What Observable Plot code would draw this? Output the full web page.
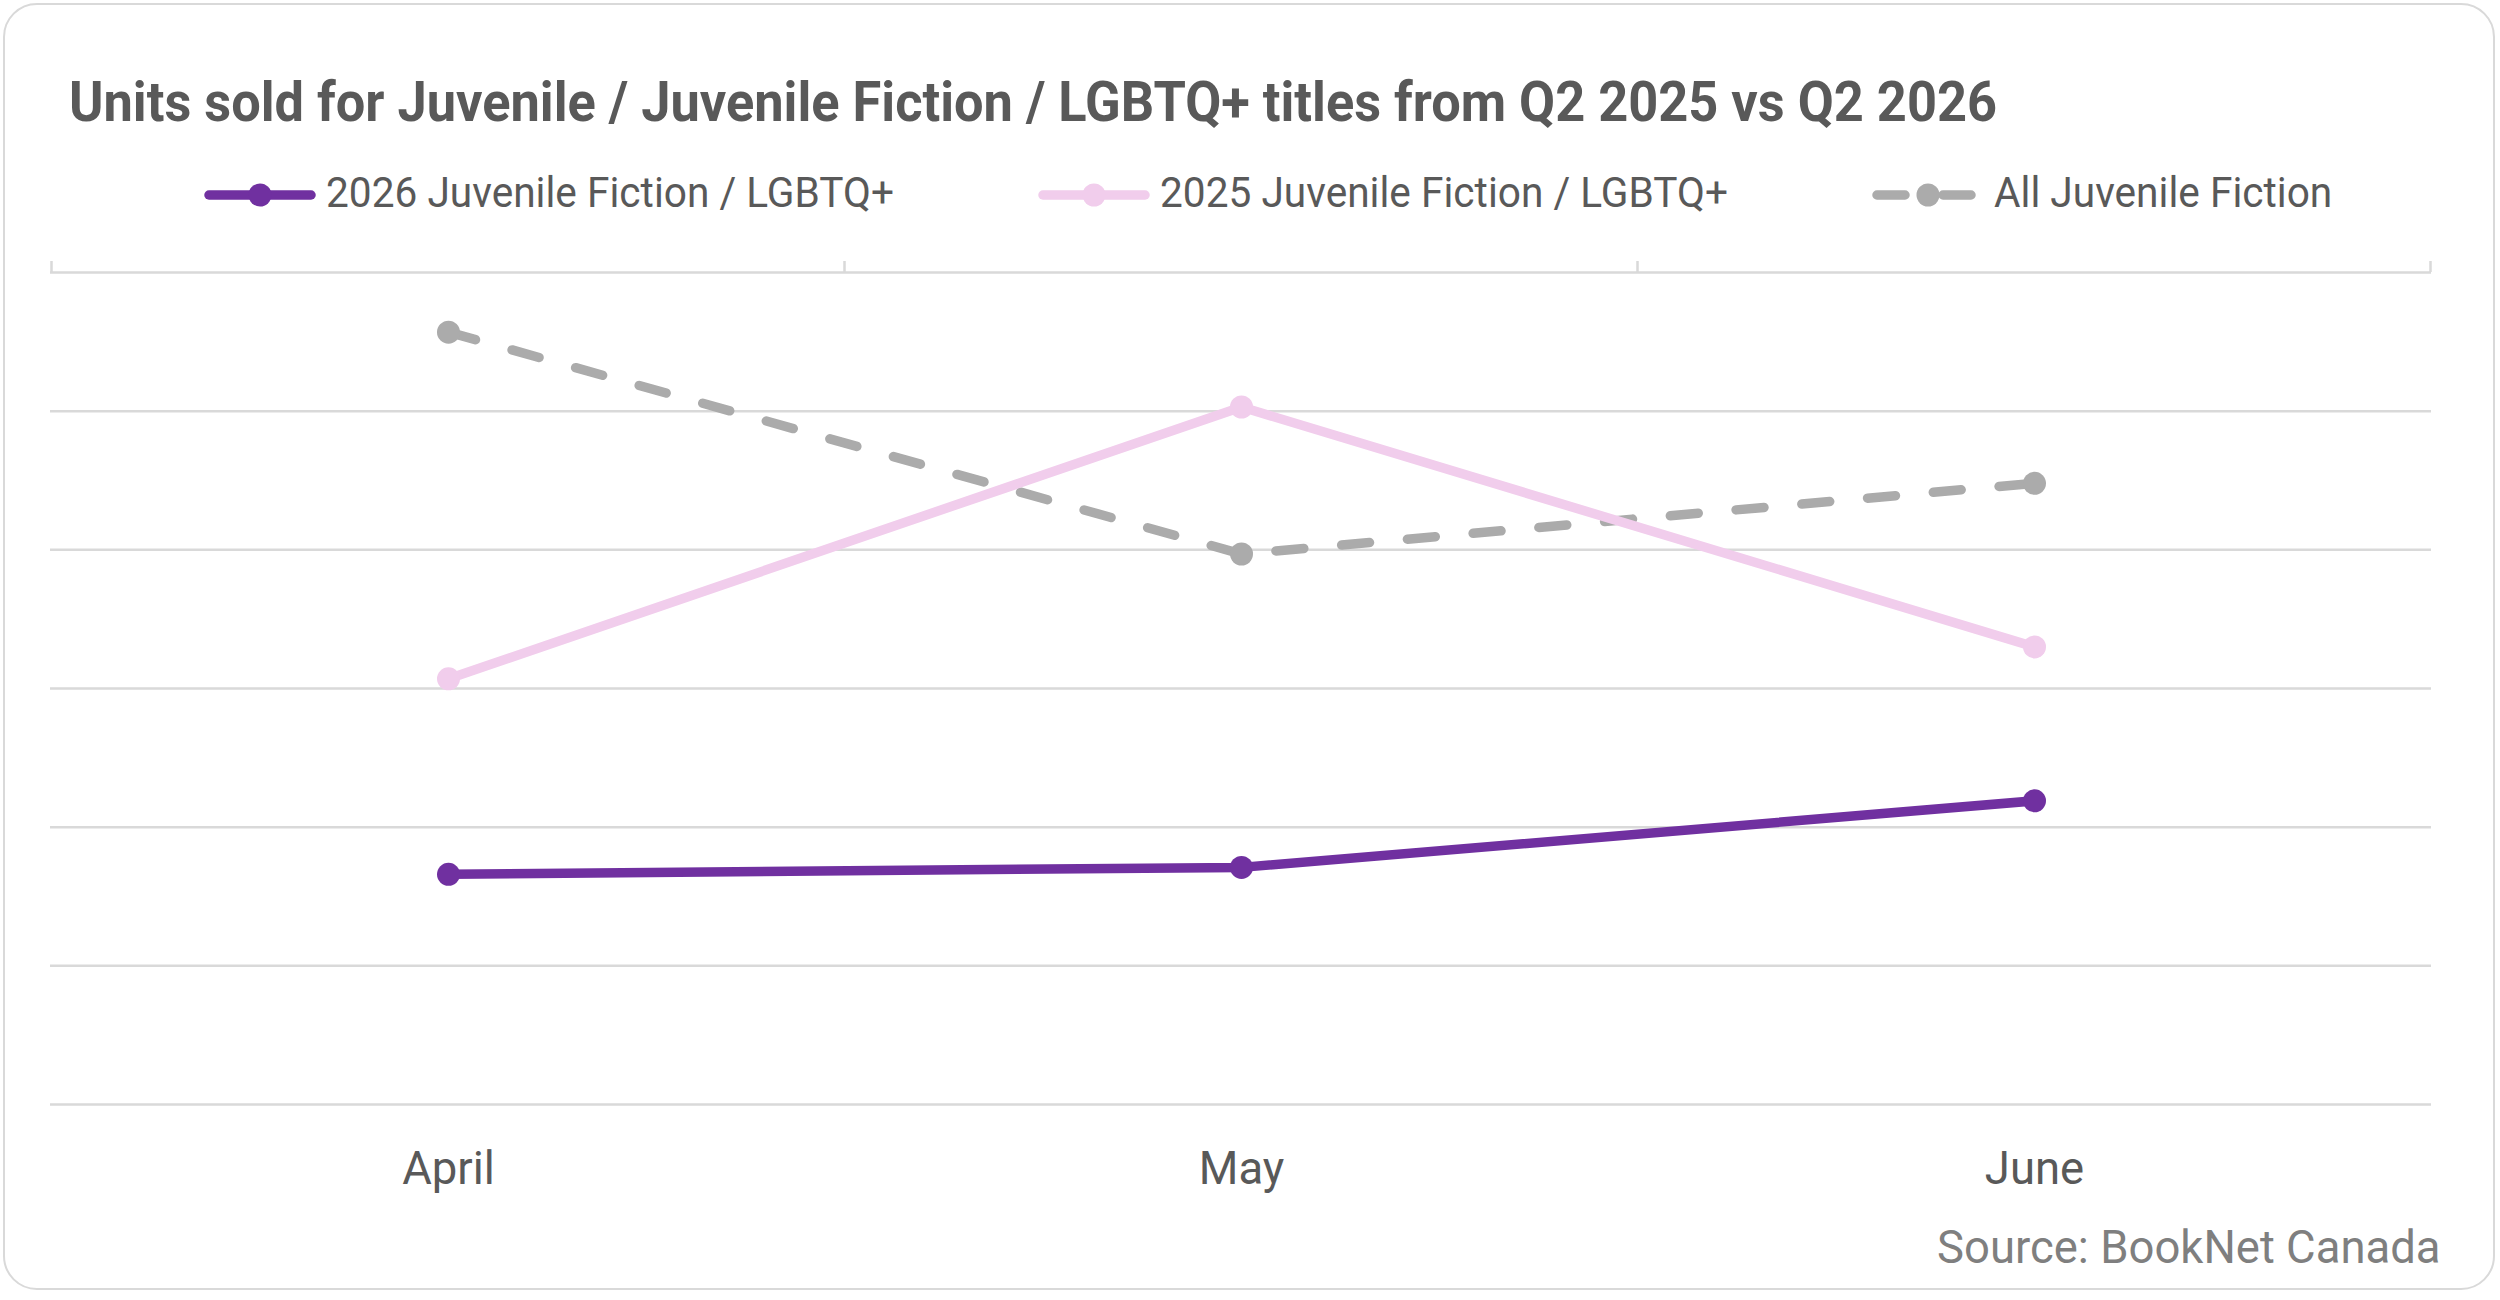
<!DOCTYPE html>
<html>
<head>
<meta charset="utf-8">
<script src="https://cdn.jsdelivr.net/npm/d3@7"></script>
<script src="https://cdn.jsdelivr.net/npm/@observablehq/plot@0.6"></script>
<style>
  html, body { margin: 0; padding: 0; background: #ffffff; }
  #page { position: relative; width: 2500px; height: 1300px; overflow: hidden; }
  #card { position: absolute; left: 3px; top: 3px; width: 2492px; height: 1287px; box-sizing: border-box;
          border: 2.5px solid #d9d9d9; border-radius: 34px; background: #fff; }
  .txt { position: absolute; white-space: nowrap; line-height: 1; transform-origin: 0 0; font-family: Roboto, "Noto Sans", sans-serif; }
  #title { left: 69px; font-weight: 700; font-size: 55px; color: #595959; }
  .legtext { font-size: 42px; color: #595959; }
  #source { font-size: 47px; color: #7f7f7f; }
  #chart { position: absolute; left: 0; top: 240px; }
  .swatch { position: absolute; }
</style>
</head>
<body>
<div id="page">
  <div id="card"></div>
  <div id="title" class="txt"></div>
  <div id="legend"></div>
  <div id="chart"></div>
  <div id="source" class="txt"></div>
</div>
<script>
// ---------------- data ----------------
const titleText = "Units sold for Juvenile / Juvenile Fiction / LGBTQ+ titles from Q2 2025 vs Q2 2026";
const sourceText = "Source: BookNet Canada";
const months = ["April", "May", "June"];
const seriesNames = ["2026 Juvenile Fiction / LGBTQ+", "2025 Juvenile Fiction / LGBTQ+", "All Juvenile Fiction"];
const units2026 = [1.66, 1.71, 2.19];
const units2025 = [3.07, 5.03, 3.30];
const unitsAll = [5.57, 3.97, 4.48];
const gridValues = [0, 1, 2, 3, 4, 5, 6];
const seriesColors = ["#7030a0", "#f1cdec", "#ababab"];
const seriesDash = [null, null, "28,38"];

const seriesValues = [units2026, units2025, unitsAll];
const rows = [];
seriesValues.forEach((vals, s) => months.forEach((m, i) => rows.push({series: seriesNames[s], month: m, value: vals[i]})));

// ---------------- text width calibration ----------------
const FONT = "Roboto, 'Noto Sans', sans-serif";
const ctx = document.createElement("canvas").getContext("2d");
function measure(text, size, weight) {
  ctx.font = `${weight || 400} ${size}px ${FONT}`;
  return ctx.measureText(text).width;
}
const kReg = 568 / measure(seriesNames[0], 42, 400);
const kBold = 1928 / measure(titleText, 55, 700);

// ---------------- title ----------------
const title = document.getElementById("title");
title.textContent = titleText;
title.style.top = (121 - 0.842 * 55) + "px";
title.style.transform = `scaleX(${kBold})`;

// ---------------- legend ----------------
const legend = document.getElementById("legend");
const swW = 112, legendY = 195, legendBase = 207;
let lx = 204;
seriesNames.forEach((name, s) => {
  const sw = d3.select(legend).append("svg").attr("class", "swatch")
    .attr("width", swW).attr("height", 30)
    .style("left", lx + "px").style("top", (legendY - 15) + "px");
  const ln = sw.append("line").attr("x1", 5).attr("x2", swW - 5).attr("y1", 15).attr("y2", 15)
    .attr("stroke", seriesColors[s]).attr("stroke-width", 9.5).attr("stroke-linecap", "round");
  if (seriesDash[s]) ln.attr("stroke-dasharray", seriesDash[s]);
  sw.append("circle").attr("cx", swW / 2).attr("cy", 15).attr("r", 11.5).attr("fill", seriesColors[s]);
  const tx = lx + swW + 10;
  const w = measure(name, 42, 400) * kReg;
  d3.select(legend).append("div").attr("class", "txt legtext").text(name)
    .style("left", tx + "px").style("top", (legendBase - 0.842 * 42) + "px")
    .style("transform", `scaleX(${kReg})`);
  lx = tx + w + 144;
});

// ---------------- chart ----------------
const W = 2500, H = 1000;
function boundaryTicks(index, scales) {
  const x = scales.x, y = scales.y;
  const step = x(months[1]) - x(months[0]);
  const xs = [x(months[0]) - step / 2, ...months.map(m => x(m) + step / 2)];
  const g = d3.create("svg:g");
  g.selectAll("line").data(xs).join("line")
    .attr("x1", d => d).attr("x2", d => d)
    .attr("y1", y(d3.max(gridValues))).attr("y2", y(d3.max(gridValues)) - 11)
    .attr("stroke", "#d9d9d9").attr("stroke-width", 2.5);
  return g.node();
}

const seriesMarks = [];
[2, 1, 0].forEach(s => {
  const data = rows.filter(r => r.series === seriesNames[s]);
  seriesMarks.push(Plot.line(data, {
    x: "month", y: "value", stroke: seriesColors[s], strokeWidth: 9.5,
    strokeDasharray: seriesDash[s] || undefined, strokeLinecap: "round", strokeLinejoin: "round"
  }));
  seriesMarks.push(Plot.dot(data, {x: "month", y: "value", r: 11.5, fill: seriesColors[s], stroke: "none"}));
});

const plot = Plot.plot({
  width: W, height: H,
  marginLeft: 50, marginRight: 69, marginTop: 32, marginBottom: 136,
  style: {fontFamily: FONT, fontSize: "47px", color: "#595959", background: "transparent", overflow: "visible"},
  x: {type: "point", domain: months, padding: 0.5},
  y: {domain: [0, 6], axis: null},
  marks: [
    Plot.ruleY(gridValues, {stroke: "#d9d9d9", strokeWidth: 2.5}),
    boundaryTicks,
    Plot.axisX({anchor: "bottom", tickSize: 0, tickPadding: 46, fontSize: 47, fill: "#595959", label: null}),
    ...seriesMarks
  ]
});
document.getElementById("chart").appendChild(plot);
d3.select(plot).selectAll("text").each(function () {
  const l = this.getComputedTextLength();
  this.setAttribute("textLength", l * kReg);
  this.setAttribute("lengthAdjust", "spacingAndGlyphs");
});

// ---------------- source ----------------
const source = document.getElementById("source");
source.textContent = sourceText;
const srcW = measure(sourceText, 47, 400) * kReg;
source.style.left = (2441 - srcW) + "px";
source.style.top = (1263 - 0.842 * 47) + "px";
source.style.transform = `scaleX(${kReg})`;
</script>
</body>
</html>
